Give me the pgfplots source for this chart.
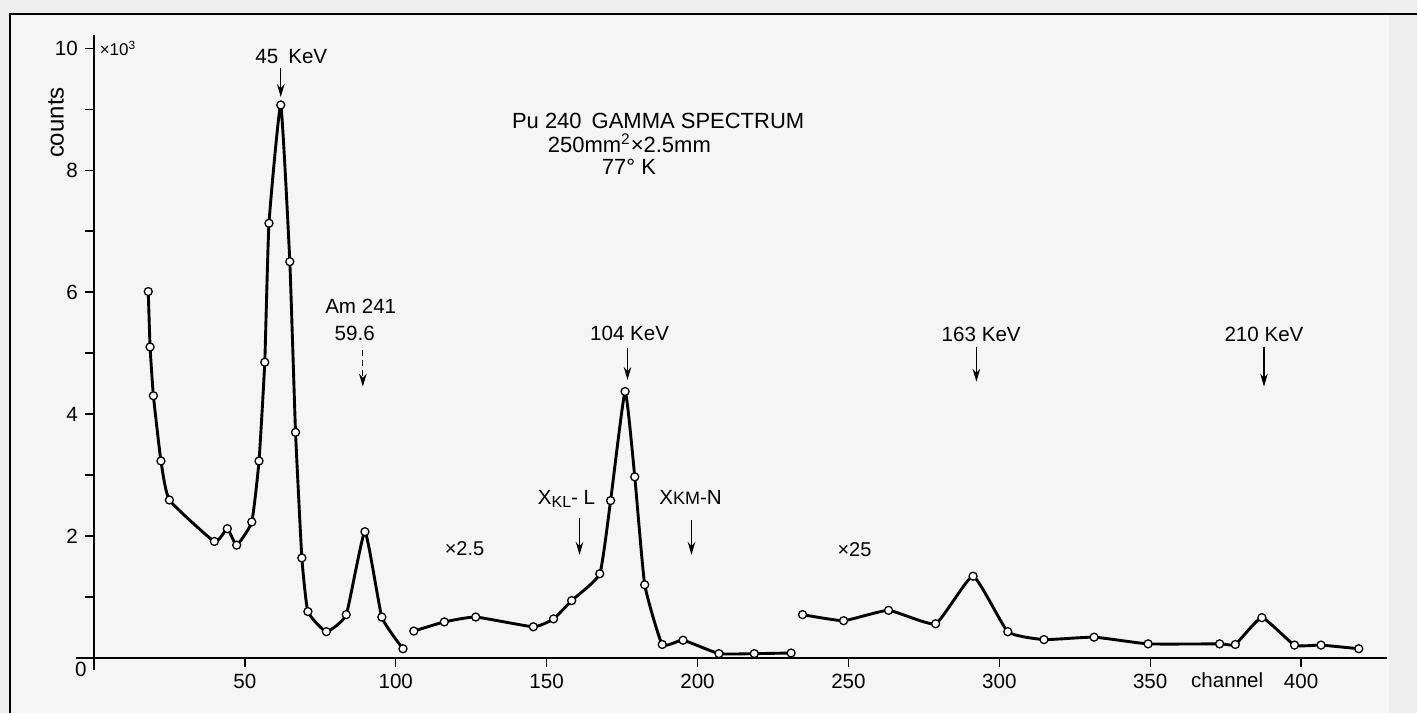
\documentclass[border=0pt]{standalone}
\usepackage{fontspec}
\setmainfont{Liberation Sans}
\usepackage{pgfplots}
\pgfplotsset{compat=1.18}
\usetikzlibrary{arrows.meta}
\definecolor{bg}{HTML}{EEEEEE}
\definecolor{inner}{HTML}{F5F5F5}
\begin{document}
\begin{tikzpicture}[x=1pt,y=1pt]
\fill[bg] (0,0) rectangle (709,356.5);
\fill[inner] (5,0) rectangle (695,349.5);
\draw[line width=0.9pt] (5,0) -- (5,349.5) -- (709,349.5);
\useasboundingbox (0,0) rectangle (709,356.5);
\begin{axis}[
  at={(47pt,27.35pt)}, anchor=south west,
  scale only axis, width=647pt, height=311.7pt,
  xmin=0, xmax=428.5, ymin=0, ymax=10.22,
  axis x line*=bottom, axis y line*=left,
  axis line style={draw=none},
  clip=false,
  xtick={50,100,...,400},
  ytick={0,1,...,10},
  yticklabels={,,2,,4,,6,,8,,10},
  tick align=outside, major tick length=4.5pt,
  tick style={black, line width=0.7pt},
  ticklabel style={font=\fontsize{10.3}{12}\selectfont},
  /pgf/number format/assume math mode=true,
]
\draw[line width=0.9pt] (axis cs:-6,0) -- (axis cs:428.5,0);
\draw[line width=0.9pt] (axis cs:0,-0.2) -- (axis cs:0,10.22);

\pgfplotsset{spec/.style={black, line width=1.45pt, smooth, tension=0.25, mark=*, mark size=2pt,
  mark options={fill=white, draw=black, line width=0.65pt, solid}}}
\addplot[spec] coordinates {
(18.0,6.01) (18.6,5.10) (19.7,4.30) (22.2,3.23) (25.0,2.59) (39.9,1.91)
(44.2,2.12) (47.3,1.85) (52.3,2.23) (54.7,3.23) (56.6,4.85) (58.0,7.13)
(61.9,9.07) (64.9,6.50) (66.8,3.70) (68.9,1.64) (70.9,0.76) (77.0,0.43)
(83.6,0.71) (89.8,2.07) (95.4,0.67) (102.4,0.15)
};
\addplot[spec] coordinates {
(106.0,0.44) (116.1,0.59) (126.5,0.67) (145.6,0.51) (152.3,0.64) (158.3,0.94)
(167.6,1.38) (171.2,2.58) (176.0,4.37) (179.2,2.97) (182.5,1.20) (188.3,0.22)
(195.2,0.29) (207.1,0.07) (218.8,0.07) (231.0,0.08)
};
\addplot[spec] coordinates {
(234.8,0.71) (248.4,0.61) (263.3,0.78) (278.9,0.56) (291.3,1.34) (302.8,0.43)
(314.8,0.30) (331.4,0.34) (349.3,0.23) (373.0,0.23) (378.2,0.22) (387.0,0.66)
(397.8,0.21) (406.6,0.21) (419.1,0.15)
};

% axis texts
\node[font=\fontsize{10.3}{12}\selectfont, anchor=base] at (axis cs:-4.3,-0.31) {0};
\node[font=\fontsize{10.3}{12}\selectfont, anchor=base] at (axis cs:375.5,-0.487) {channel};
\node[font=\fontsize{8.5}{9}\selectfont, anchor=west, inner sep=0pt] at (axis cs:1.8,10.0) {×10\textsuperscript{3}};
\node[font=\fontsize{12}{13}\selectfont, rotate=90] at (axis cs:-12.6,8.78) {counts};

% annotations
\tikzset{ann/.style={font=\fontsize{10.3}{12}\selectfont, inner sep=0pt},
  arr/.style={-{Stealth[length=6.5pt,width=3.8pt]}, line width=0.65pt}}
\node[ann] at (axis cs:65.4,9.87) {45\hspace{5pt}KeV};
\draw[arr] (axis cs:61.9,9.68) -- (axis cs:61.9,9.2);
\node[ann] at (axis cs:88.4,5.76) {Am 241};
\node[ann] at (axis cs:86.4,5.33) {59.6};
\draw[arr, densely dashed] (axis cs:89.1,5.05) -- (axis cs:89.1,4.45);
\node[ann] at (axis cs:177.5,5.33) {104 KeV};
\draw[arr] (axis cs:176.8,5.09) -- (axis cs:176.8,4.56);
\node[ann] at (axis cs:156.6,2.60) {X\raisebox{-1.5pt}{\fontsize{8}{9}\selectfont KL}- L};
\draw[arr] (axis cs:160.9,2.30) -- (axis cs:160.9,1.69);
\node[ann] at (axis cs:197.7,2.63) {X{\fontsize{9}{10}\selectfont KM}-N};
\draw[arr] (axis cs:198.0,2.27) -- (axis cs:198.0,1.69);
\node[ann, font=\fontsize{10}{11}\selectfont] at (axis cs:122.8,1.79) {×2.5};
\node[ann, font=\fontsize{10}{11}\selectfont] at (axis cs:252.0,1.78) {×25};
\node[ann] at (axis cs:294.0,5.30) {163 KeV};
\draw[arr] (axis cs:292.4,5.10) -- (axis cs:292.4,4.53);
\node[ann] at (axis cs:387.7,5.30) {210 KeV};
\draw[arr] (axis cs:387.7,5.10) -- (axis cs:387.7,4.45);

\node[ann, anchor=west, font=\fontsize{11}{12}\selectfont] at (axis cs:138.4,8.81) {Pu 240\hspace{5pt}GAMMA SPECTRUM};
\node[ann, anchor=west, font=\fontsize{11}{12}\selectfont] at (axis cs:150.3,8.45) {250mm\textsuperscript{2}×2.5mm};
\node[ann, anchor=west, font=\fontsize{11}{12}\selectfont] at (axis cs:168.2,8.06) {77° K};
\end{axis}
\end{tikzpicture}
\end{document}
